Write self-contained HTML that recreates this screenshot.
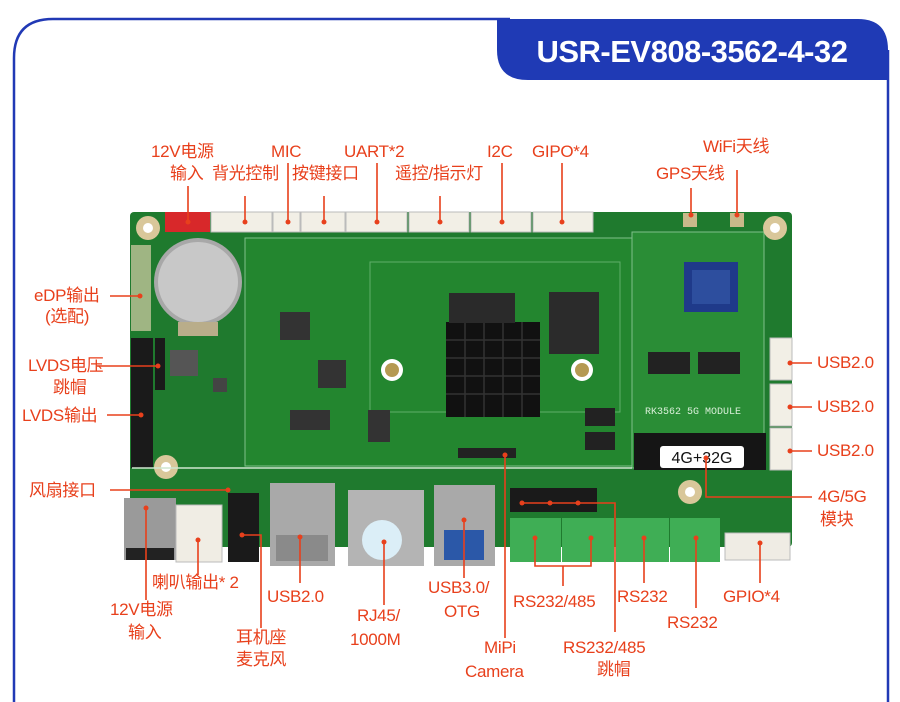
<!DOCTYPE html>
<html><head><meta charset="utf-8"><style>
html,body{margin:0;padding:0;background:#fff;}
#c{position:relative;width:900px;height:702px;overflow:hidden;background:#fff;font-family:"Liberation Sans","Noto Sans CJK SC",sans-serif;}
.t{position:absolute;color:#e8401c;font-size:17px;line-height:20px;white-space:nowrap;letter-spacing:-0.3px;}
</style></head><body><div id="c">
<svg width="900" height="702" style="position:absolute;left:0;top:0">
<!-- frame -->
<path d="M14,702 L14,58 Q14,19 53,19 L510,19" fill="none" stroke="#2139b5" stroke-width="2.5"/>
<path d="M888,702 L888,50" fill="none" stroke="#2139b5" stroke-width="2.5"/>
<path d="M497,19 L858,19 Q888,19 888,50 L888,80 L528,80 Q497,80 497,50 Z" fill="#1f3ab5"/>
<text x="692" y="62" fill="#fff" font-family="Liberation Sans, sans-serif" font-weight="bold" font-size="31" text-anchor="middle" letter-spacing="-0.5">USR-EV808-3562-4-32</text>

<!-- board -->
<rect x="130" y="212" width="662" height="335" rx="4" fill="#1f7a2e"/>
<rect x="245" y="238" width="390" height="228" fill="#23862f" stroke="#7fc08a" stroke-width="1"/>
<rect x="632" y="232" width="132" height="236" fill="#2a8d36" stroke="#7fc08a" stroke-width="1"/>
<rect x="370" y="262" width="250" height="150" fill="none" stroke="#5fae6a" stroke-width="1"/>
<!-- mounting holes -->
<circle cx="148" cy="228" r="12" fill="#d9c79a"/><circle cx="148" cy="228" r="5" fill="#fff"/>
<circle cx="775" cy="228" r="12" fill="#d9c79a"/><circle cx="775" cy="228" r="5" fill="#fff"/>
<circle cx="166" cy="467" r="12" fill="#d9c79a"/><circle cx="166" cy="467" r="5" fill="#fff"/>
<circle cx="690" cy="492" r="12" fill="#d9c79a"/><circle cx="690" cy="492" r="5" fill="#fff"/>
<circle cx="392" cy="370" r="11" fill="#fff"/><circle cx="392" cy="370" r="7" fill="#b59a52"/>
<circle cx="582" cy="370" r="11" fill="#fff"/><circle cx="582" cy="370" r="7" fill="#b59a52"/>
<!-- top connectors -->
<rect x="165" y="212" width="45" height="20" fill="#d8282a"/>
<g fill="#f2efe6" stroke="#bbb" stroke-width="1">
<rect x="211" y="212" width="61" height="20"/><rect x="273" y="212" width="27" height="20"/>
<rect x="301" y="212" width="44" height="20"/><rect x="346" y="212" width="61" height="20"/>
<rect x="409" y="212" width="60" height="20"/><rect x="471" y="212" width="60" height="20"/>
<rect x="533" y="212" width="60" height="20"/>
</g>
<rect x="683" y="213" width="14" height="14" fill="#c9b98a"/><rect x="730" y="213" width="14" height="14" fill="#c9b98a"/>
<!-- battery -->
<circle cx="198" cy="282" r="44" fill="#a8a8a8"/><circle cx="198" cy="282" r="40" fill="#c8c8c8"/>
<rect x="178" y="322" width="40" height="14" fill="#b9ad8a"/>
<!-- left headers -->
<rect x="131" y="245" width="20" height="86" fill="#d6cfa8" opacity="0.7"/>
<rect x="131" y="338" width="22" height="130" fill="#1a1a1a"/>
<rect x="155" y="338" width="10" height="52" fill="#1a1a1a"/>
<!-- chips -->
<rect x="446" y="322" width="94" height="95" fill="#111"/>
<g stroke="#333" stroke-width="1.5"><line x1="446" y1="340" x2="540" y2="340"/><line x1="446" y1="358" x2="540" y2="358"/><line x1="446" y1="376" x2="540" y2="376"/><line x1="446" y1="394" x2="540" y2="394"/><line x1="465" y1="322" x2="465" y2="417"/><line x1="484" y1="322" x2="484" y2="417"/><line x1="503" y1="322" x2="503" y2="417"/><line x1="522" y1="322" x2="522" y2="417"/></g>
<rect x="449" y="293" width="66" height="30" fill="#2a2a2a"/>
<rect x="549" y="292" width="50" height="62" fill="#2b2b2b"/>
<rect x="684" y="262" width="54" height="50" fill="#1f3a8a"/><rect x="692" y="270" width="38" height="34" fill="#2d4e9e"/>
<rect x="280" y="312" width="30" height="28" fill="#333"/><rect x="318" y="360" width="28" height="28" fill="#333"/>
<rect x="290" y="410" width="40" height="20" fill="#333"/><rect x="368" y="410" width="22" height="32" fill="#333"/>
<rect x="170" y="350" width="28" height="26" fill="#555"/><rect x="213" y="378" width="14" height="14" fill="#444"/>
<rect x="648" y="352" width="42" height="22" fill="#222"/><rect x="698" y="352" width="42" height="22" fill="#222"/>
<rect x="585" y="408" width="30" height="18" fill="#222"/><rect x="585" y="432" width="30" height="18" fill="#222"/>
<rect x="458" y="448" width="58" height="10" fill="#222"/>
<text x="645" y="414" fill="#d8efd8" font-family="Liberation Mono, monospace" font-size="10">RK3562 5G MODULE</text>
<line x1="132" y1="468" x2="632" y2="468" stroke="#cfe6cf" stroke-width="1.5"/>
<!-- m.2 -->
<rect x="634" y="433" width="132" height="37" fill="#151515"/>
<rect x="660" y="446" width="84" height="22" rx="3" fill="#fff"/>
<text x="702" y="463" fill="#111" font-family="Liberation Sans, sans-serif" font-size="16" text-anchor="middle">4G+32G</text>
<!-- right USB -->
<g fill="#f2efe6" stroke="#bbb"><rect x="770" y="338" width="22" height="42"/><rect x="770" y="384" width="22" height="42"/><rect x="770" y="428" width="22" height="42"/></g>
<!-- bottom connectors -->
<rect x="124" y="498" width="52" height="62" fill="#9a9a9a"/><rect x="126" y="548" width="48" height="12" fill="#222"/>
<rect x="176" y="505" width="46" height="57" fill="#f0ede4" stroke="#bbb"/>
<rect x="228" y="493" width="31" height="69" fill="#1a1a1a"/>
<rect x="270" y="483" width="65" height="83" fill="#a9a9a9"/><rect x="276" y="535" width="52" height="26" fill="#8a8a8a"/>
<rect x="348" y="490" width="76" height="76" fill="#b4b4b4"/><circle cx="382" cy="540" r="20" fill="#dbeef7"/>
<rect x="434" y="485" width="61" height="81" fill="#a9a9a9"/><rect x="444" y="530" width="40" height="30" fill="#2b58a8"/>
<rect x="510" y="488" width="87" height="24" fill="#1a1a1a"/>
<g fill="#3fae55"><rect x="510" y="518" width="51" height="44"/><rect x="562" y="518" width="52" height="44"/><rect x="616" y="518" width="53" height="44"/><rect x="670" y="518" width="50" height="44"/></g>
<rect x="725" y="533" width="65" height="27" fill="#efece4" stroke="#bbb"/>

<!-- leader lines -->
<g stroke="#e8401c" stroke-width="1.6" fill="none">
<path d="M188 186V222M245 196V222M288 163V222M324 196V222M377 163V222M440 196V222M502 163V222M562 163V222M691 188V215M737 170V215"/>
<path d="M110 296H140M97 366H158M107 415H141M110 490H228"/>
<path d="M790 363H812M790 407H812M790 451H812M706 458V497H812"/>
<path d="M146 508V600M198 540V575M242 535H261V628M300 537V583M384 542V605M464 520V578M505 455V638"/>
<path d="M535 538V566H591V538M563 566V586M522 503H615V632M644 538V583M696 538V608M760 543V583"/>
</g>
<g fill="#e8401c">
<circle cx="188" cy="222" r="2.5"/><circle cx="245" cy="222" r="2.5"/><circle cx="288" cy="222" r="2.5"/><circle cx="324" cy="222" r="2.5"/><circle cx="377" cy="222" r="2.5"/><circle cx="440" cy="222" r="2.5"/><circle cx="502" cy="222" r="2.5"/><circle cx="562" cy="222" r="2.5"/><circle cx="691" cy="215" r="2.5"/><circle cx="737" cy="215" r="2.5"/>
<circle cx="140" cy="296" r="2.5"/><circle cx="158" cy="366" r="2.5"/><circle cx="141" cy="415" r="2.5"/><circle cx="228" cy="490" r="2.5"/>
<circle cx="790" cy="363" r="2.5"/><circle cx="790" cy="407" r="2.5"/><circle cx="790" cy="451" r="2.5"/><circle cx="706" cy="458" r="2.5"/>
<circle cx="146" cy="508" r="2.5"/><circle cx="198" cy="540" r="2.5"/><circle cx="242" cy="535" r="2.5"/><circle cx="300" cy="537" r="2.5"/><circle cx="384" cy="542" r="2.5"/><circle cx="464" cy="520" r="2.5"/><circle cx="505" cy="455" r="2.5"/>
<circle cx="535" cy="538" r="2.5"/><circle cx="591" cy="538" r="2.5"/><circle cx="522" cy="503" r="2.5"/><circle cx="550" cy="503" r="2.5"/><circle cx="578" cy="503" r="2.5"/><circle cx="644" cy="538" r="2.5"/><circle cx="696" cy="538" r="2.5"/><circle cx="760" cy="543" r="2.5"/>
</g>
</svg>

<div class="t" style="left:151px;top:142px">12V电源</div>
<div class="t" style="left:170px;top:164px">输入</div>
<div class="t" style="left:212px;top:164px">背光控制</div>
<div class="t" style="left:271px;top:142px">MIC</div>
<div class="t" style="left:292px;top:164px">按键接口</div>
<div class="t" style="left:344px;top:142px">UART*2</div>
<div class="t" style="left:395px;top:164px">遥控/指示灯</div>
<div class="t" style="left:487px;top:142px">I2C</div>
<div class="t" style="left:532px;top:142px">GIPO*4</div>
<div class="t" style="left:703px;top:137px">WiFi天线</div>
<div class="t" style="left:656px;top:164px">GPS天线</div>

<div class="t" style="left:34px;top:286px">eDP输出</div>
<div class="t" style="left:45px;top:307px">(选配)</div>
<div class="t" style="left:28px;top:356px">LVDS电压</div>
<div class="t" style="left:53px;top:378px">跳帽</div>
<div class="t" style="left:22px;top:406px">LVDS输出</div>
<div class="t" style="left:29px;top:481px">风扇接口</div>

<div class="t" style="left:817px;top:353px">USB2.0</div>
<div class="t" style="left:817px;top:397px">USB2.0</div>
<div class="t" style="left:817px;top:441px">USB2.0</div>
<div class="t" style="left:818px;top:487px">4G/5G</div>
<div class="t" style="left:820px;top:510px">模块</div>

<div class="t" style="left:152px;top:573px">喇叭输出* 2</div>
<div class="t" style="left:110px;top:600px">12V电源</div>
<div class="t" style="left:128px;top:623px">输入</div>
<div class="t" style="left:267px;top:587px">USB2.0</div>
<div class="t" style="left:236px;top:628px">耳机座</div>
<div class="t" style="left:236px;top:650px">麦克风</div>
<div class="t" style="left:357px;top:606px">RJ45/</div>
<div class="t" style="left:350px;top:630px">1000M</div>
<div class="t" style="left:428px;top:578px">USB3.0/</div>
<div class="t" style="left:444px;top:602px">OTG</div>
<div class="t" style="left:484px;top:638px">MiPi</div>
<div class="t" style="left:465px;top:662px">Camera</div>
<div class="t" style="left:513px;top:592px">RS232/485</div>
<div class="t" style="left:617px;top:587px">RS232</div>
<div class="t" style="left:667px;top:613px">RS232</div>
<div class="t" style="left:563px;top:638px">RS232/485</div>
<div class="t" style="left:597px;top:660px">跳帽</div>
<div class="t" style="left:723px;top:587px">GPIO*4</div>
</div></body></html>
